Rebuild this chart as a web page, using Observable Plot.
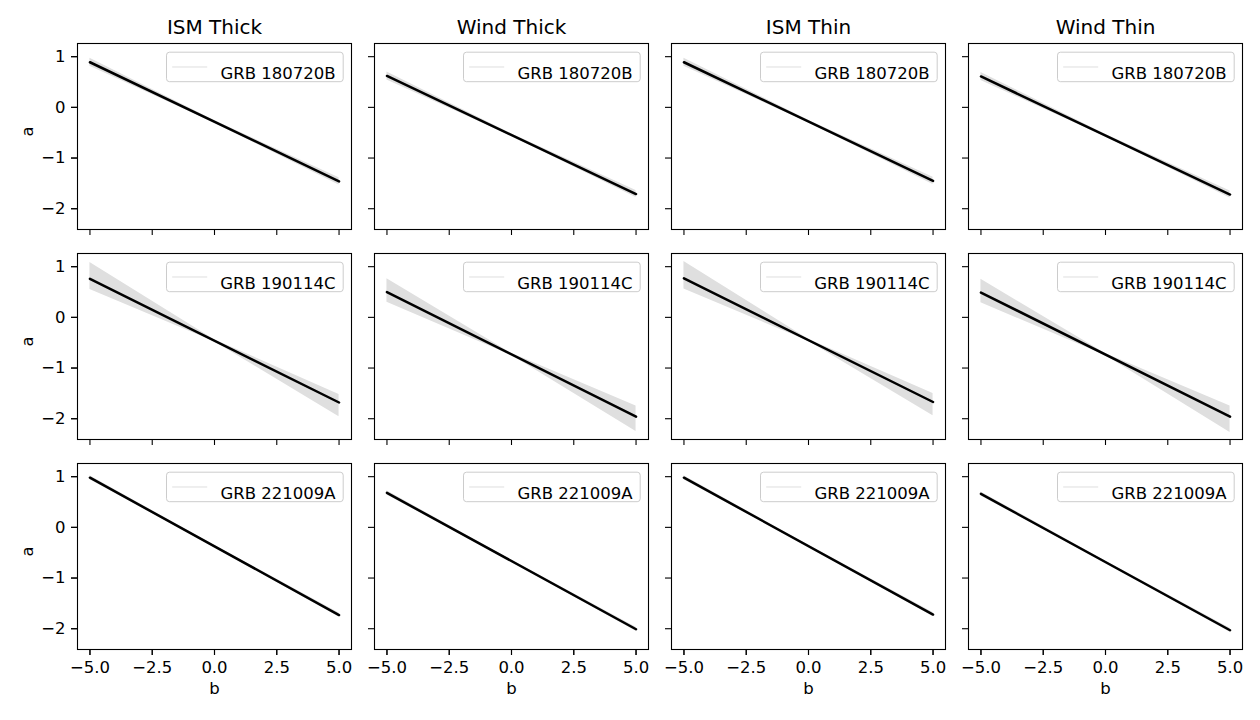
<!DOCTYPE html>
<html><head><meta charset="utf-8">
<script src="https://cdn.jsdelivr.net/npm/d3@7"></script>
<script src="https://cdn.jsdelivr.net/npm/@observablehq/plot@0.6"></script>
<style>body{margin:0;background:#fff} #chart{width:1260px;height:720px}</style>
</head><body><div id="chart"></div>
<script>
// Panels: columns = afterglow models, rows = GRBs
const models = ["ISM Thick", "Wind Thick", "ISM Thin", "Wind Thin"];
const grbs = ["GRB 180720B", "GRB 190114C", "GRB 221009A"];
const xLabel = "b";
const yLabel = "a";
const xTicks = [-5, -2.5, 0, 2.5, 5];
const yTicks = [-2, -1, 0, 1];

// Best-fit line endpoints: a at b = -5 and b = 5 (rows = grbs, cols = models)
const bEnds = [-5, 5];
const aAtStart = [
  [0.89, 0.62, 0.89, 0.61],
  [0.76, 0.50, 0.77, 0.49],
  [0.98, 0.68, 0.98, 0.66]
];
const aAtEnd = [
  [-1.46, -1.71, -1.45, -1.72],
  [-1.68, -1.96, -1.67, -1.96],
  [-1.73, -2.01, -1.72, -2.03]
];

// Uncertainty band (lower / upper) at b = -5, 0, 5
const bandB = [-5, 0, 5];
const bandLow = [
  [[0.81, -0.31, -1.53], [0.54, -0.57, -1.78], [0.81, -0.305, -1.52], [0.53, -0.58, -1.79]],
  [[0.55, -0.48, -1.96], [0.30, -0.75, -2.25], [0.56, -0.47, -1.94], [0.29, -0.755, -2.27]],
  [[0.94, -0.395, -1.77], [0.64, -0.685, -2.05], [0.94, -0.39, -1.76], [0.62, -0.705, -2.07]]
];
const bandHigh = [
  [[0.97, -0.26, -1.39], [0.70, -0.52, -1.64], [0.97, -0.255, -1.38], [0.69, -0.53, -1.65]],
  [[1.08, -0.44, -1.52], [0.76, -0.71, -1.75], [1.10, -0.43, -1.50], [0.75, -0.715, -1.75]],
  [[1.02, -0.355, -1.69], [0.72, -0.645, -1.97], [1.02, -0.35, -1.68], [0.70, -0.665, -1.99]]
];

const lineRows = [], bandRows = [], legendRows = [];
grbs.forEach((grb, r) => models.forEach((model, c) => {
  lineRows.push({model, grb, b: bEnds[0], a: aAtStart[r][c]});
  lineRows.push({model, grb, b: bEnds[1], a: aAtEnd[r][c]});
  bandB.forEach((b, k) => bandRows.push({model, grb, b, lo: bandLow[r][c][k], hi: bandHigh[r][c][k]}));
  legendRows.push({model, grb});
}));

const fmtX = d3.format(".1f");
const fmtY = d3.format("d");

const chart = Plot.plot({
  width: 1260, height: 720,
  marginLeft: 77, marginRight: 17.5, marginTop: 43, marginBottom: 70,
  style: {fontFamily: "DejaVu Sans", fontSize: "16.5px", color: "black", background: "white"},
  x: {domain: [-5.5, 5.5]},
  y: {domain: [-2.41, 1.26]},
  fx: {domain: models, paddingInner: 0.079, paddingOuter: 0},
  fy: {domain: grbs, paddingInner: 0.112, paddingOuter: 0, axis: null},
  marks: [
    Plot.areaY(bandRows, {x: "b", y1: "lo", y2: "hi", fx: "model", fy: "grb", fill: "#dfdfdf"}),
    Plot.line(lineRows, {x: "b", y: "a", fx: "model", fy: "grb", stroke: "black", strokeWidth: 2.5}),
    // legend box
    Plot.frame({fill: "white", fillOpacity: 0.8, stroke: "#cccccc", strokeWidth: 1, rx: 3,
      insetLeft: 89, insetRight: 8.3, insetTop: 8.7, insetBottom: 147.8}),
    // legend handle
    Plot.frame({fill: "#eeeeee", stroke: null,
      insetLeft: 94.7, insetRight: 144.3, insetTop: 22.5, insetBottom: 161.6}),
    Plot.text(legendRows, {fx: "model", fy: "grb", text: "grb", frameAnchor: "top-right",
      dx: -16, dy: 24, textAnchor: "end", fontSize: 16.5, fill: "black"}),
    Plot.frame({stroke: "black", strokeWidth: 1.1}),
    // ticks in every panel
    Plot.axisY({ticks: yTicks, facetAnchor: null, tickSize: 6, strokeWidth: 1.1, tickFormat: () => "", label: null}),
    Plot.axisX({ticks: xTicks, facetAnchor: null, tickSize: 6, strokeWidth: 1.1, tickFormat: () => "", label: null}),
    // labels on outer panels
    Plot.axisY({ticks: yTicks, tickSize: 6, tickPadding: 6, strokeWidth: 1.1, tickFormat: fmtY, label: null, fontSize: 16.5}),
    Plot.axisX({ticks: xTicks, tickSize: 6, tickPadding: 6, strokeWidth: 1.1, tickFormat: fmtX, label: null, fontSize: 16.5}),
    Plot.axisFx({anchor: "top", tickSize: 0, tickPadding: 10, fontSize: 20, label: null}),
    Plot.text(grbs, {fy: d => d, fx: () => models[0], text: () => yLabel, frameAnchor: "left",
      dx: -50, rotate: -90, fontSize: 16.5, fill: "black"}),
    Plot.text(models, {fx: d => d, fy: () => grbs[2], text: () => xLabel, frameAnchor: "bottom",
      dy: 44, fontSize: 16.5, fill: "black"})
  ]
});
document.getElementById("chart").appendChild(chart);
</script>
</body></html>
